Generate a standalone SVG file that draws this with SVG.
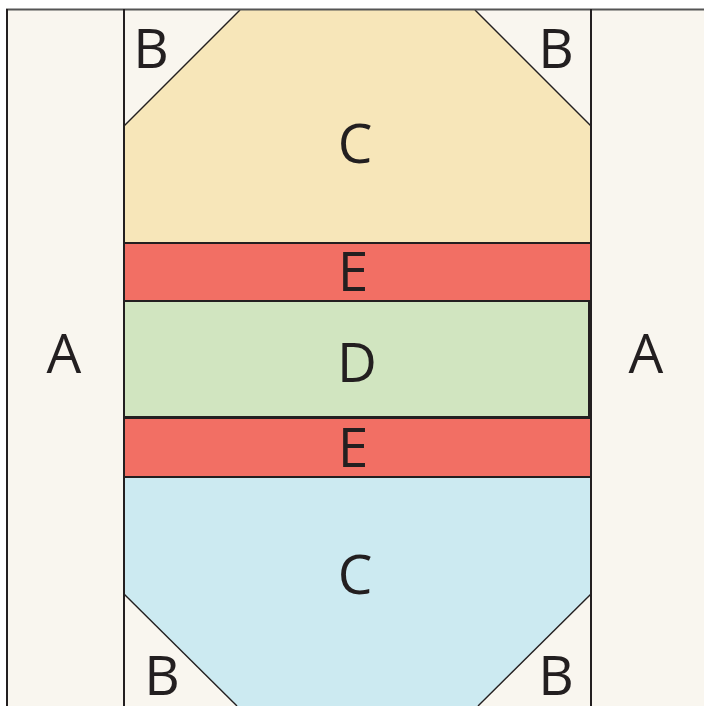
<svg xmlns="http://www.w3.org/2000/svg" width="704" height="706" viewBox="0 0 704 706">
<style>
.bg{fill:#f9f6ef}
.ln{stroke:#231f20;stroke-width:2;fill:none}
.bx{stroke:#231f20;stroke-width:2}
.red{fill:#f26f64}
.grn{fill:#d1e5c0}
.dg{stroke:#231f20;stroke-width:1.4;fill:none}
.lb{font-family:"Open Sans","Liberation Sans",sans-serif;font-size:55px;fill:#231f20;text-anchor:middle}
</style>
<rect x="0" y="0" width="704" height="706" fill="#ffffff"/>
<g id="A-left"><rect class="bg" x="7" y="10" width="117" height="696"/><text class="lb" x="64" y="373">A</text></g>
<g id="A-right"><rect class="bg" x="591" y="10" width="113" height="696"/><text class="lb" x="646" y="373">A</text></g>
<g id="C-top"><rect x="124" y="10" width="467" height="233" fill="#f7e6b9"/><text class="lb" x="355" y="163">C</text></g>
<g id="B-top-left"><polygon class="bg" points="124,10 240,10 124,126"/><line class="dg" x1="124" y1="126" x2="240" y2="10"/><text class="lb" x="151" y="68">B</text></g>
<g id="B-top-right"><polygon class="bg" points="475,10 591,10 591,126"/><line class="dg" x1="475" y1="10" x2="591" y2="126"/><text class="lb" x="556" y="68">B</text></g>
<g id="E-top"><rect class="bx red" x="124" y="243" width="467" height="58"/><text class="lb" x="353" y="291">E</text></g>
<g id="D"><rect class="bx grn" x="124" y="301" width="465" height="116"/><text class="lb" x="357" y="382">D</text></g>
<g id="E-bottom"><rect class="bx red" x="124" y="418" width="467" height="59"/><text class="lb" x="353" y="467">E</text></g>
<g id="C-bottom"><rect x="124" y="477" width="467" height="229" fill="#cceaf1"/><text class="lb" x="355" y="594">C</text></g>
<g id="B-bottom-left"><polygon class="bg" points="124,594 237,706 124,706"/><line class="dg" x1="124" y1="594" x2="237" y2="706"/><text class="lb" x="162" y="695">B</text></g>
<g id="B-bottom-right"><polygon class="bg" points="591,594 478,706 591,706"/><line class="dg" x1="591" y1="594" x2="478" y2="706"/><text class="lb" x="556" y="695">B</text></g>
<g id="lines">
<line x1="6" y1="9.5" x2="704" y2="9.5" stroke="#555" stroke-width="2"/>
<line class="ln" x1="7" y1="9" x2="7" y2="706"/>
<line class="ln" x1="124" y1="9" x2="124" y2="706"/>
<line class="ln" x1="591" y1="9" x2="591" y2="706"/>
<line class="ln" x1="124" y1="243" x2="591" y2="243"/>
<line class="ln" x1="124" y1="477" x2="591" y2="477"/>
</g>
</svg>
